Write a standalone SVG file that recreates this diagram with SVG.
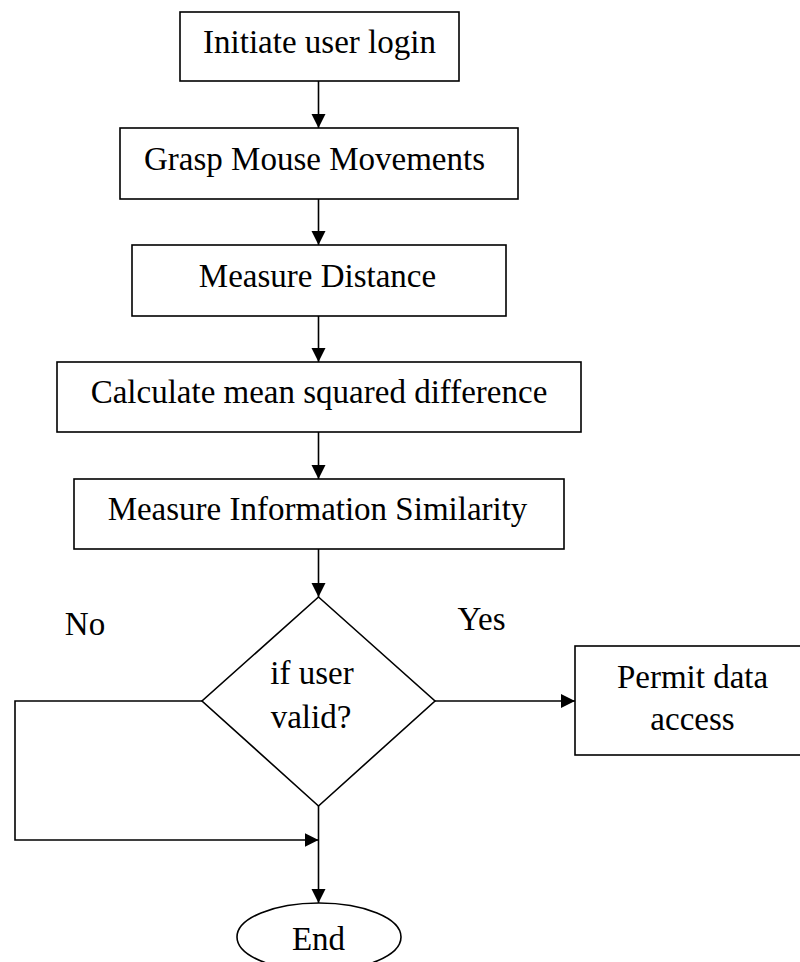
<svg xmlns="http://www.w3.org/2000/svg" width="800" height="962" viewBox="0 0 800 962">
<style>
.box{fill:#fff;stroke:#000;stroke-width:1.6}
.ln{fill:none;stroke:#000;stroke-width:1.6}
text{font-family:"Liberation Serif","Times New Roman",serif;font-size:33px;fill:#000;text-anchor:middle}
</style>
<defs>
<marker id="ah" markerUnits="userSpaceOnUse" markerWidth="15" markerHeight="15" refX="14" refY="7" orient="auto">
<path d="M0,0 L14,7 L0,14 z" fill="#000"/>
</marker>
</defs>
<rect width="800" height="962" fill="#fff"/>
<g id="connectors">
<path class="ln" d="M318.5,81 V128" marker-end="url(#ah)"/>
<path class="ln" d="M318.5,199 V245" marker-end="url(#ah)"/>
<path class="ln" d="M318.5,316 V362" marker-end="url(#ah)"/>
<path class="ln" d="M318.5,432 V479" marker-end="url(#ah)"/>
<path class="ln" d="M318.5,549 V597" marker-end="url(#ah)"/>
<path class="ln" d="M435,701 H575" marker-end="url(#ah)"/>
<path class="ln" d="M202,701 H15 V840 H318.5" marker-end="url(#ah)"/>
<path class="ln" d="M318.5,806 V903" marker-end="url(#ah)"/>
</g>
<g id="n1"><rect class="box" x="180" y="12" width="279" height="69"/><text x="319.5" y="53">Initiate user login</text></g>
<g id="n2"><rect class="box" x="120" y="128" width="398" height="71"/><text x="314.5" y="170">Grasp Mouse Movements</text></g>
<g id="n3"><rect class="box" x="132" y="245" width="374" height="71"/><text x="317.5" y="287">Measure Distance</text></g>
<g id="n4"><rect class="box" x="57" y="362" width="524" height="70"/><text x="319" y="403">Calculate mean squared difference</text></g>
<g id="n5"><rect class="box" x="74" y="479" width="490" height="70"/><text x="317.5" y="520">Measure Information Similarity</text></g>
<g id="n6"><path class="box" d="M318.5,597 L435,701 L318.5,806 L202,701 z"/><text x="312" y="684">if user</text><text x="311" y="728">valid?</text></g>
<g id="n7"><rect class="box" x="575" y="646" width="240" height="109"/><text x="692.5" y="688">Permit data</text><text x="692.5" y="730">access</text></g>
<g id="n8"><ellipse class="box" cx="319" cy="937" rx="82" ry="34"/><text x="318.5" y="950">End</text></g>
<g id="labels"><text x="481.5" y="630">Yes</text><text x="85" y="635">No</text></g>
</svg>
